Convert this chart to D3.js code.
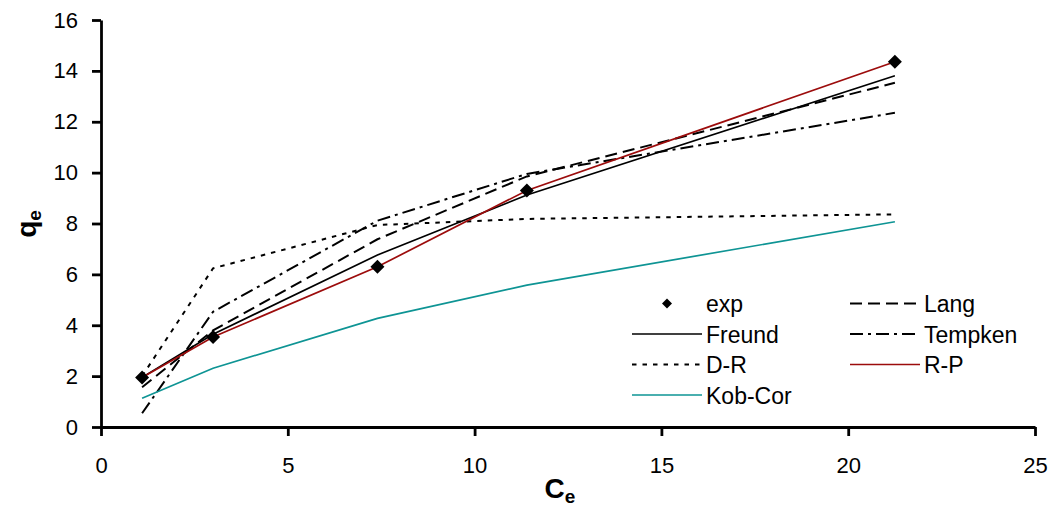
<!DOCTYPE html>
<html>
<head>
<meta charset="utf-8">
<script src="https://cdn.jsdelivr.net/npm/d3@7"></script>
<style>
  html, body { margin: 0; padding: 0; background: #fff; }
  svg { display: block; font-family: Arial, "Liberation Sans", sans-serif; }
</style>
</head>
<body>
<svg id="chart" width="1053" height="506"></svg>
<script>
// ---- data ----
const ceValues = [1.1, 3.0, 7.4, 11.4, 21.25];
const expValues = [1.95, 3.54, 6.30, 9.30, 14.36];
const freundValues = [1.95, 3.65, 6.76, 9.12, 13.81];
const langValues = [1.56, 3.80, 7.38, 9.85, 13.53];
const tempkenValues = [0.54, 4.53, 8.11, 9.95, 12.35];
const drValues = [2.0, 6.24, 7.94, 8.18, 8.36];
const rpValues = [1.95, 3.54, 6.30, 9.30, 14.36];
const kobCorValues = [1.13, 2.31, 4.27, 5.58, 8.07];
const xTicks = [0, 5, 10, 15, 20, 25];
const yTicks = [0, 2, 4, 6, 8, 10, 12, 14, 16];

const series = [
  { name: "Freund", values: freundValues, color: "#000000", dash: null },
  { name: "Lang", values: langValues, color: "#000000", dash: "12,6" },
  { name: "Tempken", values: tempkenValues, color: "#000000", dash: "13,5,3,5" },
  { name: "D-R", values: drValues, color: "#000000", dash: "4.5,6" },
  { name: "Kob-Cor", values: kobCorValues, color: "#0e9494", dash: null },
  { name: "R-P", values: rpValues, color: "#9c0c0c", dash: null }
];

const svg = d3.select("#chart");
const margin = { left: 101, right: 18, top: 20, bottom: 79 };
const W = 1053, H = 506;
const x = d3.scaleLinear().domain([0, 25]).range([margin.left, W - margin.right]);
const y = d3.scaleLinear().domain([0, 16]).range([H - margin.bottom, margin.top]);

// axes
const xAxis = d3.axisBottom(x).tickValues(xTicks).tickSize(9).tickPadding(21).tickSizeOuter(0);
const yAxis = d3.axisLeft(y).tickValues(yTicks).tickSize(9).tickPadding(14).tickSizeOuter(0);

const gx = svg.append("g").attr("transform", `translate(0,${y(0)})`).call(xAxis);
const gy = svg.append("g").attr("transform", `translate(${x(0)},0)`).call(yAxis);
[gx, gy].forEach(g => {
  g.selectAll("path.domain").attr("stroke", "#000").attr("stroke-width", 2.8);
  g.selectAll(".tick line").attr("stroke", "#000").attr("stroke-width", 2.8);
  g.selectAll(".tick text").attr("fill", "#000").style("font-size", "22px")
    .style("font-family", "Arial, 'Liberation Sans', sans-serif");
});

// lines
const line = d3.line().x((d, i) => x(ceValues[i])).y(d => y(d));
series.forEach(s => {
  svg.append("path")
    .datum(s.values)
    .attr("fill", "none")
    .attr("stroke", s.color)
    .attr("stroke-width", s.dash ? 2 : 1.7)
    .attr("stroke-dasharray", s.dash)
    .attr("d", line);
});

// exp markers
const diamond = r => `M0,${-r}L${r},0L0,${r}L${-r},0Z`;
svg.append("g").selectAll("path")
  .data(expValues)
  .join("path")
  .attr("transform", (d, i) => `translate(${x(ceValues[i])},${y(d)})`)
  .attr("d", diamond(7))
  .attr("fill", "#000");

// legend
const legendItems = [
  { name: "exp", marker: true, col: 0, row: 0 },
  { name: "Lang", color: "#000", dash: "12,6", col: 1, row: 0 },
  { name: "Freund", color: "#000", dash: null, col: 0, row: 1 },
  { name: "Tempken", color: "#000", dash: "13,5,3,5", col: 1, row: 1 },
  { name: "D-R", color: "#000", dash: "4.5,6", col: 0, row: 2 },
  { name: "R-P", color: "#9c0c0c", dash: null, col: 1, row: 2 },
  { name: "Kob-Cor", color: "#0e9494", dash: null, col: 0, row: 3 }
];
const colX = [632, 850];
const rowY = [303.5, 334, 364.5, 395];
const lg = svg.append("g");
legendItems.forEach(it => {
  const x0 = colX[it.col], yy = rowY[it.row];
  if (it.marker) {
    lg.append("path").attr("transform", `translate(${x0 + 35},${yy})`).attr("d", diamond(5)).attr("fill", "#000");
  } else {
    lg.append("line").attr("x1", x0).attr("x2", x0 + 70).attr("y1", yy).attr("y2", yy)
      .attr("stroke", it.color).attr("stroke-width", it.dash ? 2 : 1.7)
      .attr("stroke-dasharray", it.dash);
  }
  lg.append("text").attr("x", x0 + 74).attr("y", yy + 8.5)
    .style("font-size", "23px").attr("fill", "#000").text(it.name);
});

// axis titles
const xt = svg.append("text").attr("x", 560).attr("y", 498).attr("text-anchor", "middle")
  .style("font-size", "28px").style("font-weight", "bold");
xt.append("tspan").text("C");
xt.append("tspan").attr("dy", 5).style("font-size", "19px").text("e");

const yt = svg.append("text").attr("transform", "translate(36,224) rotate(-90)").attr("text-anchor", "middle")
  .style("font-size", "28px").style("font-weight", "bold");
yt.append("tspan").text("q");
yt.append("tspan").attr("dy", 5).style("font-size", "19px").text("e");
</script>
</body>
</html>
